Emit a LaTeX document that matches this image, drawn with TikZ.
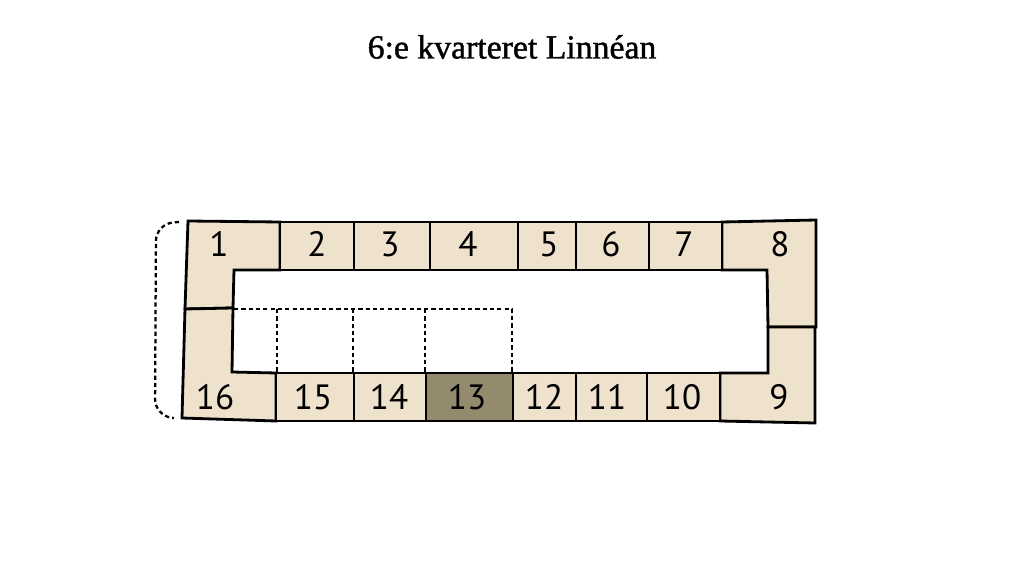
\documentclass[tikz,border=0pt]{standalone}
\usepackage{fontspec}
\setmainfont{Liberation Serif}
\newfontfamily\titlefont[FakeBold=1.2]{Liberation Serif}
\newfontfamily\numfont[Numbers=Lining]{PT Sans}
\usetikzlibrary{calc}

\definecolor{plotbeige}{RGB}{239,226,204}
\definecolor{plotdark}{RGB}{148,139,111}

\tikzset{
  lot/.style={draw, fill=plotbeige, line width=2pt, line join=miter},
  lotdark/.style={lot, fill=plotdark},
  lotnum/.style={font=\numfont\fontsize{25}{25}\selectfont, inner sep=0pt, anchor=base},
  plan/.style={draw, dashed, line width=1.3pt, dash pattern=on 3pt off 2.2pt}
}

\begin{document}
\begin{tikzpicture}[x=0.025cm, y=-0.025cm]
		\useasboundingbox (0,0) rectangle (1024,576);
		% title
		\node[font=\titlefont\fontsize{24}{24}\selectfont] (title) at (512,47) {6:e kvarteret Linnéan};
		% corner lots
		\draw[lot] (188,221) -- (280,222) -- (280,270) -- (234,270) -- (233,308) -- (185,309) -- cycle;
		\draw[lot] (185,309) -- (233,308) -- (232,372) -- (276,373) -- (276,421) -- (182,418) -- cycle;
		\draw[lot] (722,222) -- (816,220) -- (816,327) -- (768,327) -- (767,270) -- (722,270) -- cycle;
		\draw[lot] (768,327) -- (815,327) -- (815,423) -- (720,421) -- (720,373) -- (768,373) -- cycle;
		% top row
		\draw[lot] (280,222) rectangle (354,270);
		\draw[lot] (354,222) rectangle (430,270);
		\draw[lot] (430,222) rectangle (518,270);
		\draw[lot] (518,222) rectangle (576,270);
		\draw[lot] (576,222) rectangle (649,270);
		\draw[lot] (649,222) rectangle (722,270);
		% bottom row
		\draw[lot] (276,373) rectangle (354,421);
		\draw[lot] (354,373) rectangle (426,421);
		\draw[lotdark] (426,373) rectangle (513,421);
		\draw[lot] (513,373) rectangle (576,421);
		\draw[lot] (576,373) rectangle (647,421);
		\draw[lot] (647,373) rectangle (720,421);
		% planned lots
		\draw[plan] (234,309) -- (512,309) -- (512,373);
		\draw[plan] (277,309) -- (277,373);
		\draw[plan] (353,309) -- (353,373);
		\draw[plan] (425,309) -- (425,373);
		% bracket
		\draw[plan, line width=1.6pt, rounded corners=12pt] (179,222) -- (156,224) -- (155,416) -- (174,418);
		% numbers
		\node[lotnum] (n1) at (219,257) {1};
		\node[lotnum] (n2) at (317,257) {2};
		\node[lotnum] (n3) at (390,257) {3};
		\node[lotnum] (n4) at (468,257) {4};
		\node[lotnum] (n5) at (549,257) {5};
		\node[lotnum] (n6) at (611,257) {6};
		\node[lotnum] (n7) at (684,257) {7};
		\node[lotnum] (n8) at (780,257) {8};
		\node[lotnum] (n16) at (215,409) {16};
		\node[lotnum] (n15) at (313,409) {15};
		\node[lotnum] (n14) at (389,409) {14};
		\node[lotnum] (n13) at (467,409) {13};
		\node[lotnum] (n12) at (544,409) {12};
		\node[lotnum] (n11) at (607,409) {11};
		\node[lotnum] (n10) at (682,409) {10};
		\node[lotnum] (n9) at (779,409) {9};
\end{tikzpicture}
\end{document}
